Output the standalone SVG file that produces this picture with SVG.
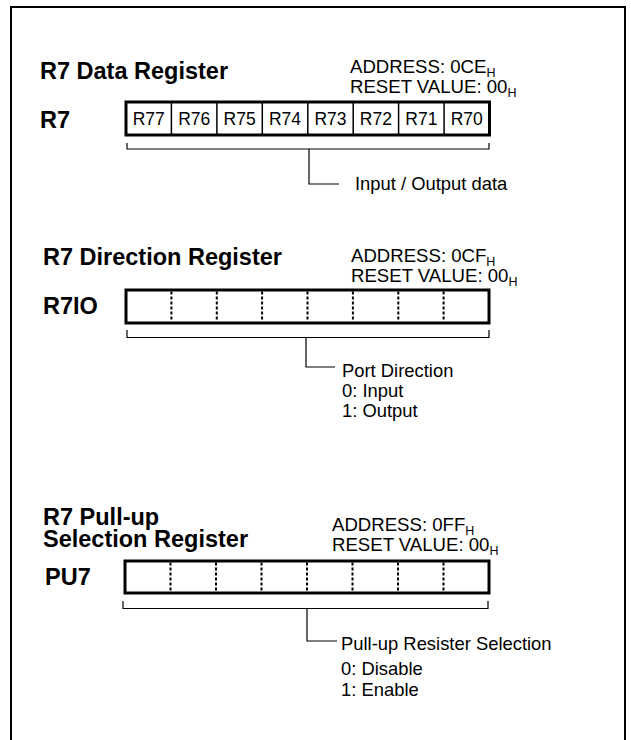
<svg xmlns="http://www.w3.org/2000/svg" width="631" height="740" viewBox="0 0 631 740">
<style>
text{font-family:"Liberation Sans",Arial,sans-serif;fill:#000}
.title{font-size:23.5px;font-weight:bold}
.addr{font-size:18.6px}
.sub{font-size:12.5px}
.cell{font-size:17.5px;text-anchor:middle}
.lbl{font-size:18.4px}
.box{fill:#fff;stroke:#000;stroke-width:3}
.div{stroke:#000;stroke-width:1.5}
.dot{stroke:#000;stroke-width:2;stroke-dasharray:3 2}
.ln{fill:none;stroke:#000;stroke-width:1.2}
.frame{fill:none;stroke:#000;stroke-width:2}
</style>
<rect width="631" height="740" fill="#fff"/>
<path class="frame" d="M11 740 V7 H625 V740"/>

<g id="r7-data">
<text class="title" x="40" y="79">R7 Data Register</text>
<text class="addr" x="350" y="73">ADDRESS: 0CE<tspan class="sub" dy="4">H</tspan></text>
<text class="addr" x="350" y="93">RESET VALUE: 00<tspan class="sub" dy="4">H</tspan></text>
<text class="title" x="40" y="128">R7</text>
<rect class="box" x="126" y="102" width="363.5" height="33"/>
<path class="div" d="M171.4 102V135M216.9 102V135M262.3 102V135M307.8 102V135M353.2 102V135M398.6 102V135M444.1 102V135"/>
<text class="cell" x="148.7" y="124.5">R77</text>
<text class="cell" x="194.2" y="124.5">R76</text>
<text class="cell" x="239.6" y="124.5">R75</text>
<text class="cell" x="285" y="124.5">R74</text>
<text class="cell" x="330.5" y="124.5">R73</text>
<text class="cell" x="375.9" y="124.5">R72</text>
<text class="cell" x="421.4" y="124.5">R71</text>
<text class="cell" x="466.8" y="124.5">R70</text>
<text class="lbl" x="355" y="190">Input / Output data</text>
</g>

<g id="r7-direction">
<text class="title" x="43" y="265">R7 Direction Register</text>
<text class="addr" x="351" y="262">ADDRESS: 0CF<tspan class="sub" dy="4">H</tspan></text>
<text class="addr" x="351" y="282">RESET VALUE: 00<tspan class="sub" dy="4">H</tspan></text>
<text class="title" x="43" y="314">R7IO</text>
<rect class="box" x="126" y="290" width="363" height="33"/>
<path class="dot" d="M171.4 291.5V321.5M216.8 291.5V321.5M262.1 291.5V321.5M307.5 291.5V321.5M352.9 291.5V321.5M398.3 291.5V321.5M443.6 291.5V321.5"/>
<text class="lbl" x="342" y="377">Port Direction</text>
<text class="lbl" x="342" y="397">0: Input</text>
<text class="lbl" x="342" y="417">1: Output</text>
</g>

<g id="r7-pullup">
<text class="title" x="43" y="525">R7 Pull-up</text>
<text class="title" x="43" y="547">Selection Register</text>
<text class="addr" x="332" y="531">ADDRESS: 0FF<tspan class="sub" dy="4">H</tspan></text>
<text class="addr" x="332" y="551">RESET VALUE: 00<tspan class="sub" dy="4">H</tspan></text>
<text class="title" x="45" y="585">PU7</text>
<rect class="box" x="125" y="561" width="364" height="32"/>
<path class="dot" d="M170.5 562.5V591.5M216 562.5V591.5M261.5 562.5V591.5M307 562.5V591.5M352.5 562.5V591.5M398 562.5V591.5M443.5 562.5V591.5"/>
<text class="lbl" x="341" y="650">Pull-up Resister Selection</text>
<text class="lbl" x="341" y="675">0: Disable</text>
<text class="lbl" x="341" y="696">1: Enable</text>
</g>

<g id="connectors">
<path class="ln" d="M127 143V149H489V143"/>
<path class="ln" d="M309 149V184H339"/>
<path class="ln" d="M127 330V337.5H489V330"/>
<path class="ln" d="M306 337.5V367H335"/>
<path class="ln" d="M123 601V608.5H488V601"/>
<path class="ln" d="M307 608.5V641H337"/>
</g>
</svg>
